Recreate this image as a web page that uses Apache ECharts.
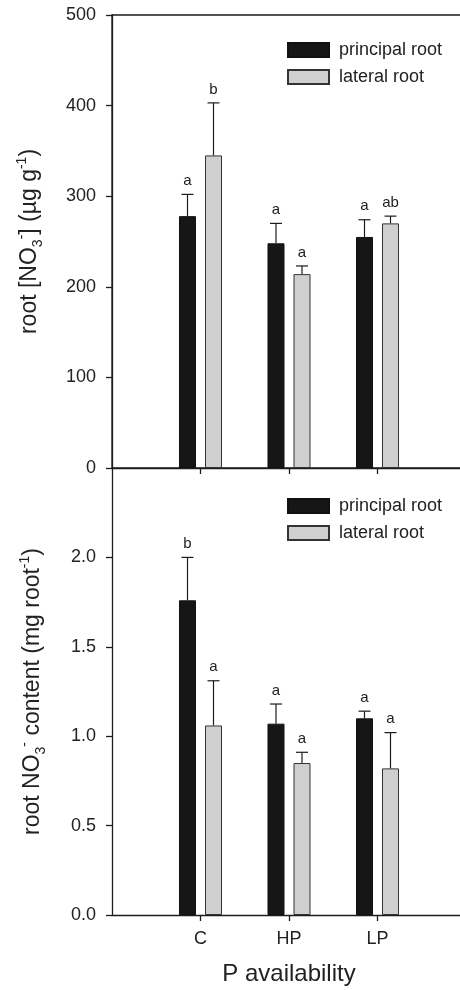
<!DOCTYPE html>
<html><head><meta charset="utf-8">
<script src="https://cdn.jsdelivr.net/npm/echarts@6/dist/echarts.min.js"></script>
<style>html,body{margin:0;padding:0;background:#fff}#c{width:460px;height:990px}</style>
</head><body><div id="c"></div>
<script>
// ---- data ----
const categories = ['C', 'HP', 'LP'];
const seriesNames = ['principal root', 'lateral root'];
const concPrincipal = [278, 248, 255];
const concPrincipalErr = [24, 22, 19];
const concLateral = [345, 214, 270];
const concLateralErr = [58, 9, 8];
const concPrincipalLetters = ['a', 'a', 'a'];
const concLateralLetters = ['b', 'a', 'ab'];
const contPrincipal = [1.76, 1.07, 1.10];
const contPrincipalErr = [0.24, 0.11, 0.04];
const contLateral = [1.06, 0.85, 0.82];
const contLateralErr = [0.25, 0.06, 0.20];
const contPrincipalLetters = ['b', 'a', 'a'];
const contLateralLetters = ['a', 'a', 'a'];
const concTicks = [0, 100, 200, 300, 400, 500];
const contTicks = [0.0, 0.5, 1.0, 1.5, 2.0];
const contAxisMax = 2.5;

// ---- styling ----
const FONT = 'Liberation Sans';
const INK = '#1c1c1c';
const TXT = '#222';
const BLACK = '#161616';
const GRAY = '#cfcfcf';
const BAR_W = 17;
const OFFSET = 13;

const xCats = [''].concat(categories, ['']);
const tickShow = (i) => i >= 1 && i <= categories.length;

function barSeries(name, vals, axisIdx, color, border) {
  return {
    type: 'bar', name: name, xAxisIndex: axisIdx, yAxisIndex: axisIdx,
    data: vals.map((v, i) => [i + 1, v]),
    barWidth: BAR_W, barGap: '53%',
    itemStyle: { color: color, borderColor: border, borderWidth: 1 },
    z: 2
  };
}
function errSeries(vals, errs, letters, axisIdx, dir) {
  return {
    type: 'custom', xAxisIndex: axisIdx, yAxisIndex: axisIdx, z: 3,
    data: vals.map((v, i) => [i + 1, v, errs[i]]),
    encode: { x: 0, y: 1 },
    renderItem: function (params, api) {
      const x = api.value(0), v = api.value(1), e = api.value(2);
      const b = api.coord([x, v]);
      const t = api.coord([x, v + e]);
      const cx = b[0] + dir * OFFSET;
      const ls = { stroke: INK, lineWidth: 1.2 };
      return {
        type: 'group', children: [
          { type: 'line', shape: { x1: cx, y1: b[1], x2: cx, y2: t[1] }, style: ls },
          { type: 'line', shape: { x1: cx - 6, y1: t[1], x2: cx + 6, y2: t[1] }, style: ls },
          { type: 'text', x: cx, y: t[1] - 6,
            style: { text: letters[params.dataIndex], fill: TXT, font: '15px "' + FONT + '"', align: 'center', verticalAlign: 'bottom' } }
        ]
      };
    }
  };
}

const axisLineStyle = { color: INK, width: 1.3 };
const richName = {
  sub: { fontSize: 14, lineHeight: 14, verticalAlign: 'bottom', fontFamily: FONT, color: TXT },
  sup: { fontSize: 14, lineHeight: 14, verticalAlign: 'top', fontFamily: FONT, color: TXT }
};
const legendBase = {
  left: 287, orient: 'vertical', itemWidth: 41, itemHeight: 14, itemGap: 9, icon: 'rect', padding: 0,
  selectedMode: false, data: seriesNames,
  textStyle: { fontSize: 18, color: TXT, fontFamily: FONT, padding: [0, 0, 0, 5] }
};

const option = {
  animation: false,
  backgroundColor: '#fff',
  textStyle: { fontFamily: FONT, color: TXT },
  grid: [
    { left: 112, top: 15, width: 354, height: 453, show: true, borderColor: INK, borderWidth: 1.3,
      containLabel: false, outerBoundsMode: 'none' },
    { left: 112, top: 468, width: 354, height: 447, containLabel: false, outerBoundsMode: 'none' }
  ],
  legend: [
    Object.assign({}, legendBase, { top: 41 }),
    Object.assign({}, legendBase, { top: 497 })
  ],
  xAxis: [
    { type: 'category', gridIndex: 0, data: xCats, boundaryGap: false,
      axisLine: { lineStyle: axisLineStyle },
      axisTick: { show: true, length: 6, interval: tickShow, lineStyle: axisLineStyle },
      axisLabel: { show: false }, splitLine: { show: false } },
    { type: 'category', gridIndex: 1, data: xCats, boundaryGap: false,
      axisLine: { lineStyle: axisLineStyle },
      axisTick: { show: true, length: 6, interval: tickShow, lineStyle: axisLineStyle },
      axisLabel: { show: true, interval: 0, fontSize: 18, color: TXT, margin: 15, fontFamily: FONT },
      splitLine: { show: false },
      name: 'P availability', nameLocation: 'middle', nameGap: 47,
      nameTextStyle: { fontSize: 24, color: TXT, fontFamily: FONT } }
  ],
  yAxis: [
    { type: 'value', gridIndex: 0, min: concTicks[0], max: concTicks[concTicks.length - 1],
      interval: concTicks[1] - concTicks[0],
      axisLine: { show: true, lineStyle: axisLineStyle },
      axisTick: { show: true, length: 6, lineStyle: axisLineStyle },
      axisLabel: { fontSize: 18, color: TXT, margin: 16, fontFamily: FONT },
      splitLine: { show: false },
      name: 'root [NO{sub|3}{sup|-}] (µg g{sup|-1})', nameLocation: 'middle', nameRotate: 90, nameGap: 67,
      nameTextStyle: { fontSize: 23, lineHeight: 30, color: TXT, fontFamily: FONT, rich: richName } },
    { type: 'value', gridIndex: 1, min: contTicks[0], max: contAxisMax,
      interval: contTicks[1] - contTicks[0],
      axisLine: { show: true, lineStyle: axisLineStyle },
      axisTick: { show: true, length: 6, lineStyle: axisLineStyle },
      axisLabel: { fontSize: 18, color: TXT, margin: 16, fontFamily: FONT, showMaxLabel: false,
        formatter: (v) => v.toFixed(1) },
      splitLine: { show: false },
      name: 'root NO{sub|3}{sup|-} content (mg root{sup|-1})', nameLocation: 'middle', nameRotate: 90, nameGap: 64,
      nameTextStyle: { fontSize: 23, lineHeight: 30, color: TXT, fontFamily: FONT, rich: richName } }
  ],
  series: [
    barSeries(seriesNames[0], concPrincipal, 0, BLACK, '#111'),
    barSeries(seriesNames[1], concLateral, 0, GRAY, '#333'),
    barSeries(seriesNames[0], contPrincipal, 1, BLACK, '#111'),
    barSeries(seriesNames[1], contLateral, 1, GRAY, '#333'),
    errSeries(concPrincipal, concPrincipalErr, concPrincipalLetters, 0, -1),
    errSeries(concLateral, concLateralErr, concLateralLetters, 0, 1),
    errSeries(contPrincipal, contPrincipalErr, contPrincipalLetters, 1, -1),
    errSeries(contLateral, contLateralErr, contLateralLetters, 1, 1)
  ]
};
const chart = echarts.init(document.getElementById('c'), null, { renderer: 'canvas' });
chart.setOption(option);
</script></body></html>
